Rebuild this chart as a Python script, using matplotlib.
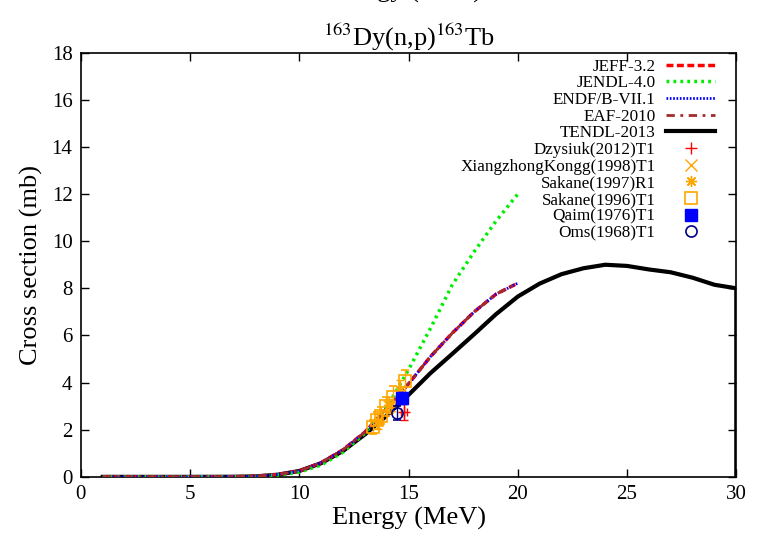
#!/usr/bin/env python3
"""163Dy(n,p)163Tb cross section - evaluations vs experimental data."""

import matplotlib
matplotlib.use('Agg')
import matplotlib.pyplot as plt
from matplotlib.container import ErrorbarContainer

plt.rcParams['font.family'] = ['Liberation Serif', 'DejaVu Serif']
plt.rcParams['mathtext.fontset'] = 'stix'

# evaluated libraries (MeV, mb)
e_eval = [1, 2, 3, 4, 5, 6, 7, 8, 9, 10, 11, 12, 13, 14, 15, 16, 17, 18, 19, 20]
jeff = [0, 0, 0, 0, 0, 0.001, 0.005, 0.03, 0.1, 0.25, 0.6, 1.15, 1.9, 2.9, 3.95, 5.1, 6.1, 7.0, 7.75, 8.22]
jendl = [0, 0, 0, 0, 0, 0, 0.003, 0.02, 0.08, 0.2, 0.5, 1.05, 1.85, 2.95, 4.55, 6.3, 8.15, 9.55, 10.85, 12.0]
endf = [0, 0, 0, 0, 0, 0.001, 0.005, 0.03, 0.1, 0.25, 0.6, 1.15, 1.9, 2.9, 3.95, 5.1, 6.1, 7.0, 7.75, 8.22]
eaf = [0, 0, 0, 0, 0, 0.001, 0.005, 0.03, 0.1, 0.25, 0.6, 1.15, 1.9, 2.9, 3.95, 5.1, 6.1, 7.0, 7.75, 8.22]

e_tendl = [1, 2, 3, 4, 5, 6, 7, 8, 9, 10, 11, 12, 13, 14, 15, 16, 17, 18, 19, 20,
           21, 22, 23, 24, 25, 26, 27, 28, 29, 30, 30]
tendl = [0, 0, 0, 0, 0, 0.002, 0.005, 0.02, 0.09, 0.25, 0.58, 1.1, 1.8, 2.6, 3.48, 4.4, 5.22, 6.05, 6.9, 7.65,
         8.2, 8.6, 8.85, 9.0, 8.95, 8.8, 8.68, 8.45, 8.15, 8.0, 0]

# experimental data (EXFOR)
dzy_e, dzy_s, dzy_de, dzy_ds = [14.8], [2.75], [0.15], [0.35]
kong_e, kong_s, kong_ds = [14.1], [3.0], [0.3]
sak97_e, sak97_s, sak97_ds = [13.6, 14.1, 14.6], [2.35, 3.05, 3.7], [0.3, 0.35, 0.4]
sak96_e = [13.35, 13.55, 13.75, 13.95, 14.3, 14.85]
sak96_s = [2.1, 2.4, 2.6, 3.0, 3.4, 4.05]
sak96_ds = [0.3, 0.35, 0.35, 0.4, 0.45, 0.5]
qaim_e, qaim_s, qaim_ds = [14.7], [3.35], [0.25]
oms_e, oms_s, oms_ds = [14.45], [2.7], [0.3]

fig = plt.figure(figsize=(7.63, 5.37), dpi=100)
ax = fig.add_axes([0.106, 0.112, 0.859, 0.79])

ax.plot(e_eval, jeff, color='#ff0000', lw=2.5, ls=(0, (2, 1)), label='JEFF-3.2', zorder=3)
ax.plot(e_eval, jendl, color='#00ee00', lw=2.5, ls=(0, (0.8, 1.2)), label='JENDL-4.0', zorder=3)
ax.plot(e_eval, endf, color='#0000ff', lw=2.0, ls=(0, (0.6, 0.6)), label='ENDF/B-VII.1', zorder=3)
ax.plot(e_eval, eaf, color='#a52a2a', lw=2.0, ls=(0, (3, 2, 1, 2)), label='EAF-2010', zorder=3)
ax.plot(e_tendl, tendl, color='black', lw=3, label='TENDL-2013', zorder=2)

ax.errorbar(dzy_e, dzy_s, yerr=dzy_ds, xerr=dzy_de, fmt='+', color='#ff0000', ms=8, lw=1,
            capsize=3, label='Dzysiuk(2012)T1', zorder=4)
ax.errorbar(kong_e, kong_s, yerr=kong_ds, fmt='x', color='#ffa500', ms=8, lw=1,
            capsize=3, label='XiangzhongKongg(1998)T1', zorder=4)
ax.errorbar(sak97_e, sak97_s, yerr=sak97_ds, fmt=' ', marker=(8, 2, 0), color='#ffa500', ms=8,
            mew=1, lw=1, capsize=3, label='Sakane(1997)R1', zorder=4)
ax.errorbar(sak96_e, sak96_s, yerr=sak96_ds, fmt='s', color='#ffa500', mfc='none', ms=8, mew=1.2,
            lw=1, capsize=3, label='Sakane(1996)T1', zorder=4)
ax.errorbar(qaim_e, qaim_s, yerr=qaim_ds, fmt='s', color='#0000ff', ms=8, lw=1,
            capsize=3, label='Qaim(1976)T1', zorder=5)
ax.errorbar(oms_e, oms_s, yerr=oms_ds, fmt='o', color='#00008b', mfc='none', ms=8, mew=1.2,
            lw=1, capsize=3, label='Oms(1968)T1', zorder=5)

ax.set_xlim(0, 30)
ax.set_ylim(0, 18)
ax.set_xticks(range(0, 31, 5))
ax.set_yticks(range(0, 19, 2))
ax.tick_params(direction='in', length=6, width=1, top=True, right=True, labelsize=15, pad=6)
for s in ax.spines.values():
    s.set_linewidth(1.2)

ax.set_xlabel('Energy (MeV)', fontsize=19, labelpad=2)
ax.set_ylabel('Cross section (mb)', fontsize=19, labelpad=6)
ax.set_title(r'$^{163}$Dy(n,p)$^{163}$Tb', fontsize=19, pad=5)

# clipped remnant of a heading above the figure
fig.text(482 / 763, 1.004, 'Energy (MeV)', fontsize=19, ha='right', va='baseline')

# legend: markers only for the data sets (no error bars in the key)
handles, labels = ax.get_legend_handles_labels()
handles = [h.lines[0] if isinstance(h, ErrorbarContainer) else h for h in handles]
leg = ax.legend(handles, labels, loc='upper right', bbox_to_anchor=(0.968, 0.986), frameon=False,
                markerfirst=False, fontsize=12.3, labelspacing=0.04, handlelength=2.9,
                handletextpad=0.6, borderpad=0, borderaxespad=0)

fig.savefig('out.png', dpi=100)
plt.close(fig)
